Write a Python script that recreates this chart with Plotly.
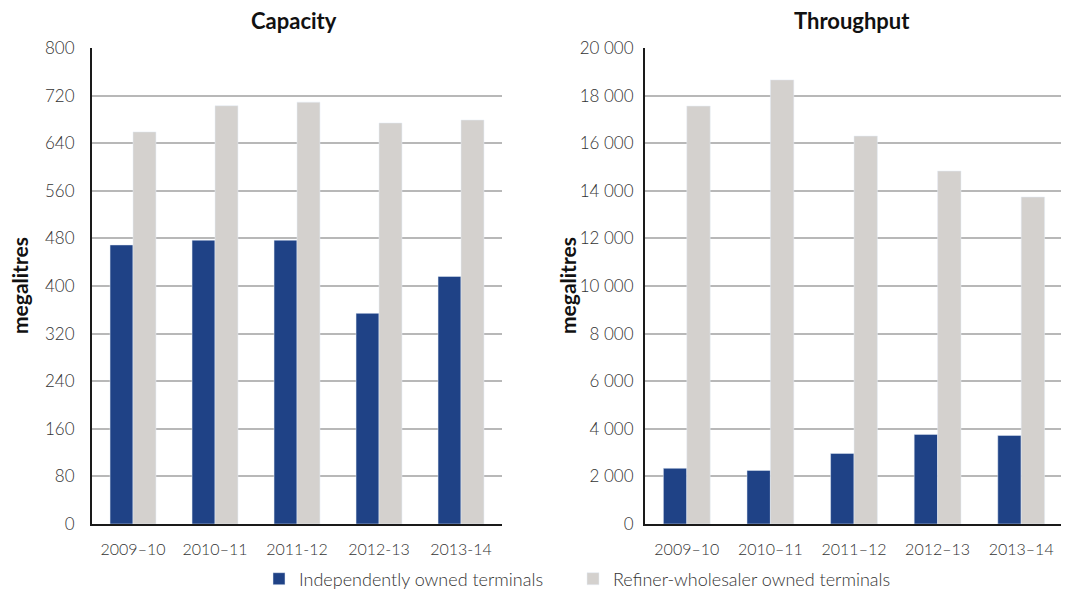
import plotly.graph_objects as go
from plotly.subplots import make_subplots

cap_years = ["2009–10", "2010–11", "2011-12", "2012-13", "2013-14"]
thr_years = ["2009–10", "2010–11", "2011–12", "2012–13", "2013–14"]

cap_independent = [469, 477, 477, 354, 416]
cap_refiner = [659, 703, 709, 674, 679]

thr_independent = [2340, 2250, 2965, 3765, 3720]
thr_refiner = [17560, 18660, 16300, 14830, 13740]

BLUE = "#1f4286"
GREY = "#d4d1ce"
FONT = "Lato"

# the page body has an 8px margin, so the figure starts at (8, 8)
OFF = 8
W, H = 1069 - OFF, 591 - OFF


def fx(px):
    return (px - OFF) / W


def fy(py):
    return 1 - (py - OFF) / H


fig = make_subplots(rows=1, cols=2)

fig.add_trace(go.Bar(x=cap_years, y=cap_independent, name="Independently owned terminals",
                     marker_color=BLUE, legendgroup="a", legend="legend"), row=1, col=1)
fig.add_trace(go.Bar(x=cap_years, y=cap_refiner, name="Refiner-wholesaler owned terminals",
                     marker_color=GREY, legendgroup="b", legend="legend2"), row=1, col=1)
fig.add_trace(go.Bar(x=thr_years, y=thr_independent, name="Independently owned terminals",
                     marker_color=BLUE, legendgroup="a", showlegend=False), row=1, col=2)
fig.add_trace(go.Bar(x=thr_years, y=thr_refiner, name="Refiner-wholesaler owned terminals",
                     marker_color=GREY, legendgroup="b", showlegend=False), row=1, col=2)

ydom = [fy(524), fy(48)]
tickfont = dict(family=FONT, size=16, color="#333333", weight=300)
axis_common = dict(showline=True, linecolor="#1a1a1a", linewidth=2, ticks="",
                   automargin=False)
fig.update_xaxes(**axis_common, type="category", ticklabelstandoff=10, tickfont=tickfont)
fig.update_yaxes(**axis_common, showgrid=True, gridcolor="#b8b8b8", gridwidth=1.5,
                 zeroline=False, exponentformat="none", tickfont=dict(tickfont, size=17))

legend_style = dict(orientation="h", xanchor="left", y=fy(579), yanchor="middle",
                    font=dict(tickfont, size=18), itemclick=False,
                    bgcolor="rgba(0,0,0,0)")

fig.update_layout(
    xaxis=dict(domain=[fx(92), fx(502)]),
    xaxis2=dict(domain=[fx(645), fx(1063)]),
    yaxis=dict(domain=ydom, range=[0, 800], dtick=80, ticklabelstandoff=12),
    yaxis2=dict(domain=ydom, range=[0, 20000], dtick=2000, separatethousands=True,
                ticklabelstandoff=6),
    separators=". ",
    barmode="group",
    bargap=0.44,
    bargroupgap=0,
    width=W,
    height=H,
    margin=dict(l=0, r=0, t=0, b=0, autoexpand=False),
    plot_bgcolor="white",
    paper_bgcolor="white",
    font=dict(family=FONT, color="#222"),
    legend=dict(legend_style, x=fx(259)),
    legend2=dict(legend_style, x=fx(573)),
)

titles = [("Capacity", 294), ("Throughput", 852)]
for text, x in titles:
    fig.add_annotation(text="<b>%s</b>" % text, x=fx(x), y=fy(20), xanchor="center",
                       yanchor="middle", xref="paper", yref="paper", showarrow=False,
                       font=dict(family=FONT, size=22, color="#111"))
for x in [19, 567]:
    fig.add_annotation(text="<b>megalitres</b>", x=fx(x), y=fy(286), xanchor="center",
                       yanchor="middle", xref="paper", yref="paper", showarrow=False,
                       textangle=-90, font=dict(family=FONT, size=21, color="#111"))

fig.write_html("out.html")
